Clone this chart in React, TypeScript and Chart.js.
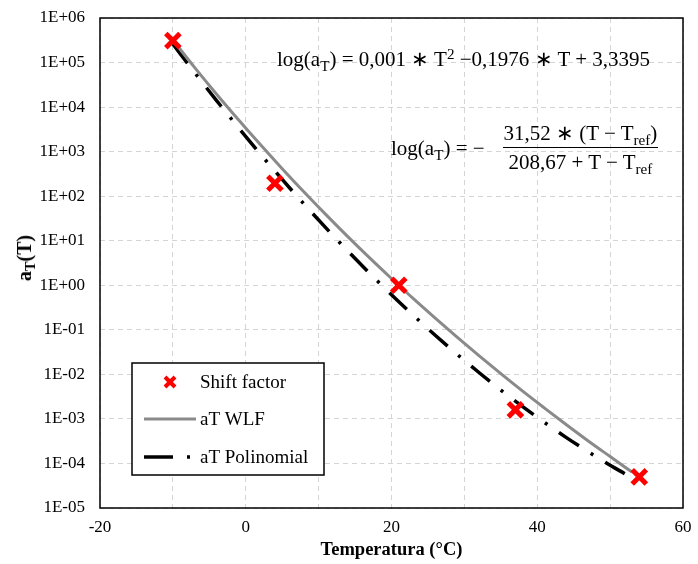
import React, { useEffect, useRef } from 'react';
import { Chart, registerables } from 'chart.js';

Chart.register(...registerables);

// Measured shift factors
const shiftTemps = [-10, 4, 21, 37, 54];
const shiftFactor = [3.1e5, 1.95e2, 1.0, 1.6e-3, 5.0e-5];

// aT WLF curve
const wlfTemps = [-10, -7, -4, -1, 2, 5, 8, 11, 14, 17, 20, 23, 26, 29, 32, 35, 38, 41, 44, 47, 50, 53];
const wlfValues = [3.2e5, 7.7e4, 1.95e4, 5.2e3, 1.44e3, 415, 124, 38.6, 12.4, 4.13, 1.42, 0.5, 0.183, 0.0686, 0.0264, 0.0104, 4.2e-3, 1.75e-3, 7.4e-4, 3.2e-4, 1.43e-4, 6.4e-5];

// aT Polinomial curve
const polyTemps = [-10, -7, -4, -1, 2, 5, 8, 11, 14, 17, 20, 23, 26, 29, 32, 35, 38, 41, 44, 47, 50, 52];
const polyValues = [2.6e5, 5.9e4, 1.4e4, 3.45e3, 887, 238, 66.5, 19.4, 5.88, 1.86, 0.613, 0.211, 0.0755, 0.0282, 0.011, 4.45e-3, 1.88e-3, 8.3e-4, 3.81e-4, 1.83e-4, 9.1e-5, 5.9e-5];

const xTickValues = [-20, -10, 0, 10, 20, 30, 40, 50, 60];
const xTickLabels = ['-20', '', '0', '', '20', '', '40', '', '60'];
const yTickValues = [1e-5, 1e-4, 1e-3, 1e-2, 1e-1, 1e0, 1e1, 1e2, 1e3, 1e4, 1e5, 1e6];
const yTickLabels = ['1E-05', '1E-04', '1E-03', '1E-02', '1E-01', '1E+00', '1E+01', '1E+02', '1E+03', '1E+04', '1E+05', '1E+06'];

const seriesNames = ['Shift factor', 'aT WLF', 'aT Polinomial'];
const xTitle = 'Temperatura (°C)';

const SERIF = "'Liberation Serif', 'Times New Roman', serif";
const RED = '#ff0000';
const GRAY = '#8a8a8a';
const DASHDOT = [24, 14, 3, 14];

const boxLegendPlugin = {
  id: 'boxLegend',
  afterDraw(chart: any) {
    const { ctx, chartArea } = chart;
    const { left, top, right, bottom } = chartArea;
    ctx.save();
    ctx.strokeStyle = '#000';
    ctx.lineWidth = 1.5;
    ctx.setLineDash([]);
    ctx.strokeRect(left, top, right - left, bottom - top);

    // legend box
    const lx = left + 32;
    const ly = top + 345;
    const lw = 192;
    const lh = 112;
    ctx.fillStyle = '#fff';
    ctx.fillRect(lx, ly, lw, lh);
    ctx.lineWidth = 1.5;
    ctx.strokeStyle = '#000';
    ctx.strokeRect(lx, ly, lw, lh);

    const rows = [ly + 19, ly + 56, ly + 94];
    // X marker
    const cx = lx + 38;
    const r = 5;
    ctx.strokeStyle = RED;
    ctx.lineWidth = 4;
    ctx.beginPath();
    ctx.moveTo(cx - r, rows[0] - r);
    ctx.lineTo(cx + r, rows[0] + r);
    ctx.moveTo(cx + r, rows[0] - r);
    ctx.lineTo(cx - r, rows[0] + r);
    ctx.stroke();
    // gray line
    ctx.strokeStyle = GRAY;
    ctx.lineWidth = 3;
    ctx.beginPath();
    ctx.moveTo(lx + 12, rows[1]);
    ctx.lineTo(lx + 64, rows[1]);
    ctx.stroke();
    // dash-dot
    ctx.strokeStyle = '#000';
    ctx.lineWidth = 3.5;
    ctx.beginPath();
    ctx.moveTo(lx + 12, rows[2]);
    ctx.lineTo(lx + 41, rows[2]);
    ctx.moveTo(lx + 55, rows[2]);
    ctx.lineTo(lx + 58, rows[2]);
    ctx.stroke();

    ctx.fillStyle = '#000';
    ctx.font = `19px ${SERIF}`;
    ctx.textBaseline = 'middle';
    ctx.textAlign = 'left';
    seriesNames.forEach((n, i) => ctx.fillText(n, lx + 68, rows[i] + 1));
    ctx.restore();
  },
};

export default function App() {
  const ref = useRef<HTMLCanvasElement | null>(null);

  useEffect(() => {
    if (!ref.current) return;
    const chart = new Chart(ref.current, {
      type: 'scatter',
      data: {
        datasets: [
          {
            label: seriesNames[0],
            data: shiftTemps.map((t, i) => ({ x: t, y: shiftFactor[i] })),
            showLine: false,
            pointStyle: 'crossRot',
            pointRadius: 10,
            pointBorderWidth: 5,
            borderColor: RED,
            backgroundColor: RED,
          },
          {
            label: seriesNames[1],
            data: wlfTemps.map((t, i) => ({ x: t, y: wlfValues[i] })),
            showLine: true,
            borderColor: GRAY,
            borderWidth: 3,
            pointRadius: 0,
            cubicInterpolationMode: 'monotone',
          },
          {
            label: seriesNames[2],
            data: polyTemps.map((t, i) => ({ x: t, y: polyValues[i] })),
            showLine: true,
            borderColor: '#000',
            borderWidth: 3.5,
            borderDash: DASHDOT,
            borderCapStyle: 'butt',
            pointRadius: 0,
            cubicInterpolationMode: 'monotone',
          },
        ],
      },
      options: {
        animation: false,
        responsive: false,
        layout: { padding: { left: 0, top: 18, right: 10, bottom: 0 } },
        plugins: { legend: { display: false }, tooltip: { enabled: false } },
        scales: {
          x: {
            type: 'linear',
            min: -20,
            max: 60,
            afterBuildTicks: (s: any) => {
              s.ticks = xTickValues.map((v) => ({ value: v }));
            },
            afterFit: (s: any) => {
              s.height = 56;
              s.paddingLeft = 0;
              s.paddingRight = 0;
            },
            ticks: {
              color: '#000',
              font: { family: SERIF, size: 17 },
              padding: 9,
              maxRotation: 0,
              autoSkip: false,
              callback: (v: any) => {
                const i = xTickValues.indexOf(Number(v));
                return i >= 0 ? xTickLabels[i] : '';
              },
            },
            grid: { color: '#d4d4d4', lineWidth: 1, drawTicks: false },
            border: { display: false, dash: [5, 4] },
            title: {
              display: true,
              text: xTitle,
              color: '#000',
              font: { family: SERIF, size: 18.5, weight: 'bold' },
              padding: { top: 0, bottom: 3 },
            },
          },
          y: {
            type: 'logarithmic',
            min: 1e-5,
            max: 1e6,
            afterBuildTicks: (s: any) => {
              s.ticks = yTickValues.map((v) => ({ value: v }));
            },
            afterFit: (s: any) => {
              s.width = 100;
              s.paddingTop = 0;
              s.paddingBottom = 0;
            },
            ticks: {
              color: '#000',
              font: { family: SERIF, size: 17 },
              padding: 15,
              autoSkip: false,
              callback: (v: any) => {
                const i = yTickValues.findIndex((t) => Math.abs(Math.log10(t) - Math.log10(Number(v))) < 1e-6);
                return i >= 0 ? yTickLabels[i] : '';
              },
            },
            grid: { color: '#d4d4d4', lineWidth: 1, drawTicks: false },
            border: { display: false, dash: [5, 4] },
          },
        },
      },
      plugins: [boxLegendPlugin],
    } as any);
    return () => chart.destroy();
  }, []);

  const sub: React.CSSProperties = { fontSize: '0.72em', verticalAlign: '-0.3em', lineHeight: 0 };
  const sup: React.CSSProperties = { fontSize: '0.72em', verticalAlign: '0.45em', lineHeight: 0 };
  const eqFont: React.CSSProperties = { fontFamily: SERIF, fontSize: 21, color: '#000', whiteSpace: 'nowrap', lineHeight: '24px' };

  return (
    <div style={{ position: 'absolute', left: 0, top: 0, width: 698, height: 564, background: '#fff' }}>
      <canvas ref={ref} width={698} height={564} style={{ display: 'block' }} />
      <div
        style={{
          position: 'absolute',
          left: 24,
          top: 258,
          transform: 'translate(-50%, -50%) rotate(-90deg)',
          fontFamily: SERIF,
          fontWeight: 'bold',
          fontSize: 20,
          whiteSpace: 'nowrap',
          color: '#000',
          lineHeight: '22px',
        }}
      >
        a<span style={sub}>T</span>(T)
      </div>
      <div style={{ ...eqFont, position: 'absolute', left: 277, top: 47 }}>
        log(a<span style={sub}>T</span>) = 0,001 ∗ T<span style={sup}>2</span> −0,1976 ∗ T + 3,3395
      </div>
      <div style={{ ...eqFont, position: 'absolute', left: 391, top: 121, display: 'flex', alignItems: 'center' }}>
        <span>
          log(a<span style={sub}>T</span>) = −
        </span>
        <span style={{ display: 'inline-flex', flexDirection: 'column', alignItems: 'center', marginLeft: 18 }}>
          <span style={{ padding: '0 1px 2px', borderBottom: '1.5px solid #000' }}>
            31,52 ∗ (T − T<span style={sub}>ref</span>)
          </span>
          <span style={{ padding: '2px 1px 0' }}>
            208,67 + T − T<span style={sub}>ref</span>
          </span>
        </span>
      </div>
    </div>
  );
}
